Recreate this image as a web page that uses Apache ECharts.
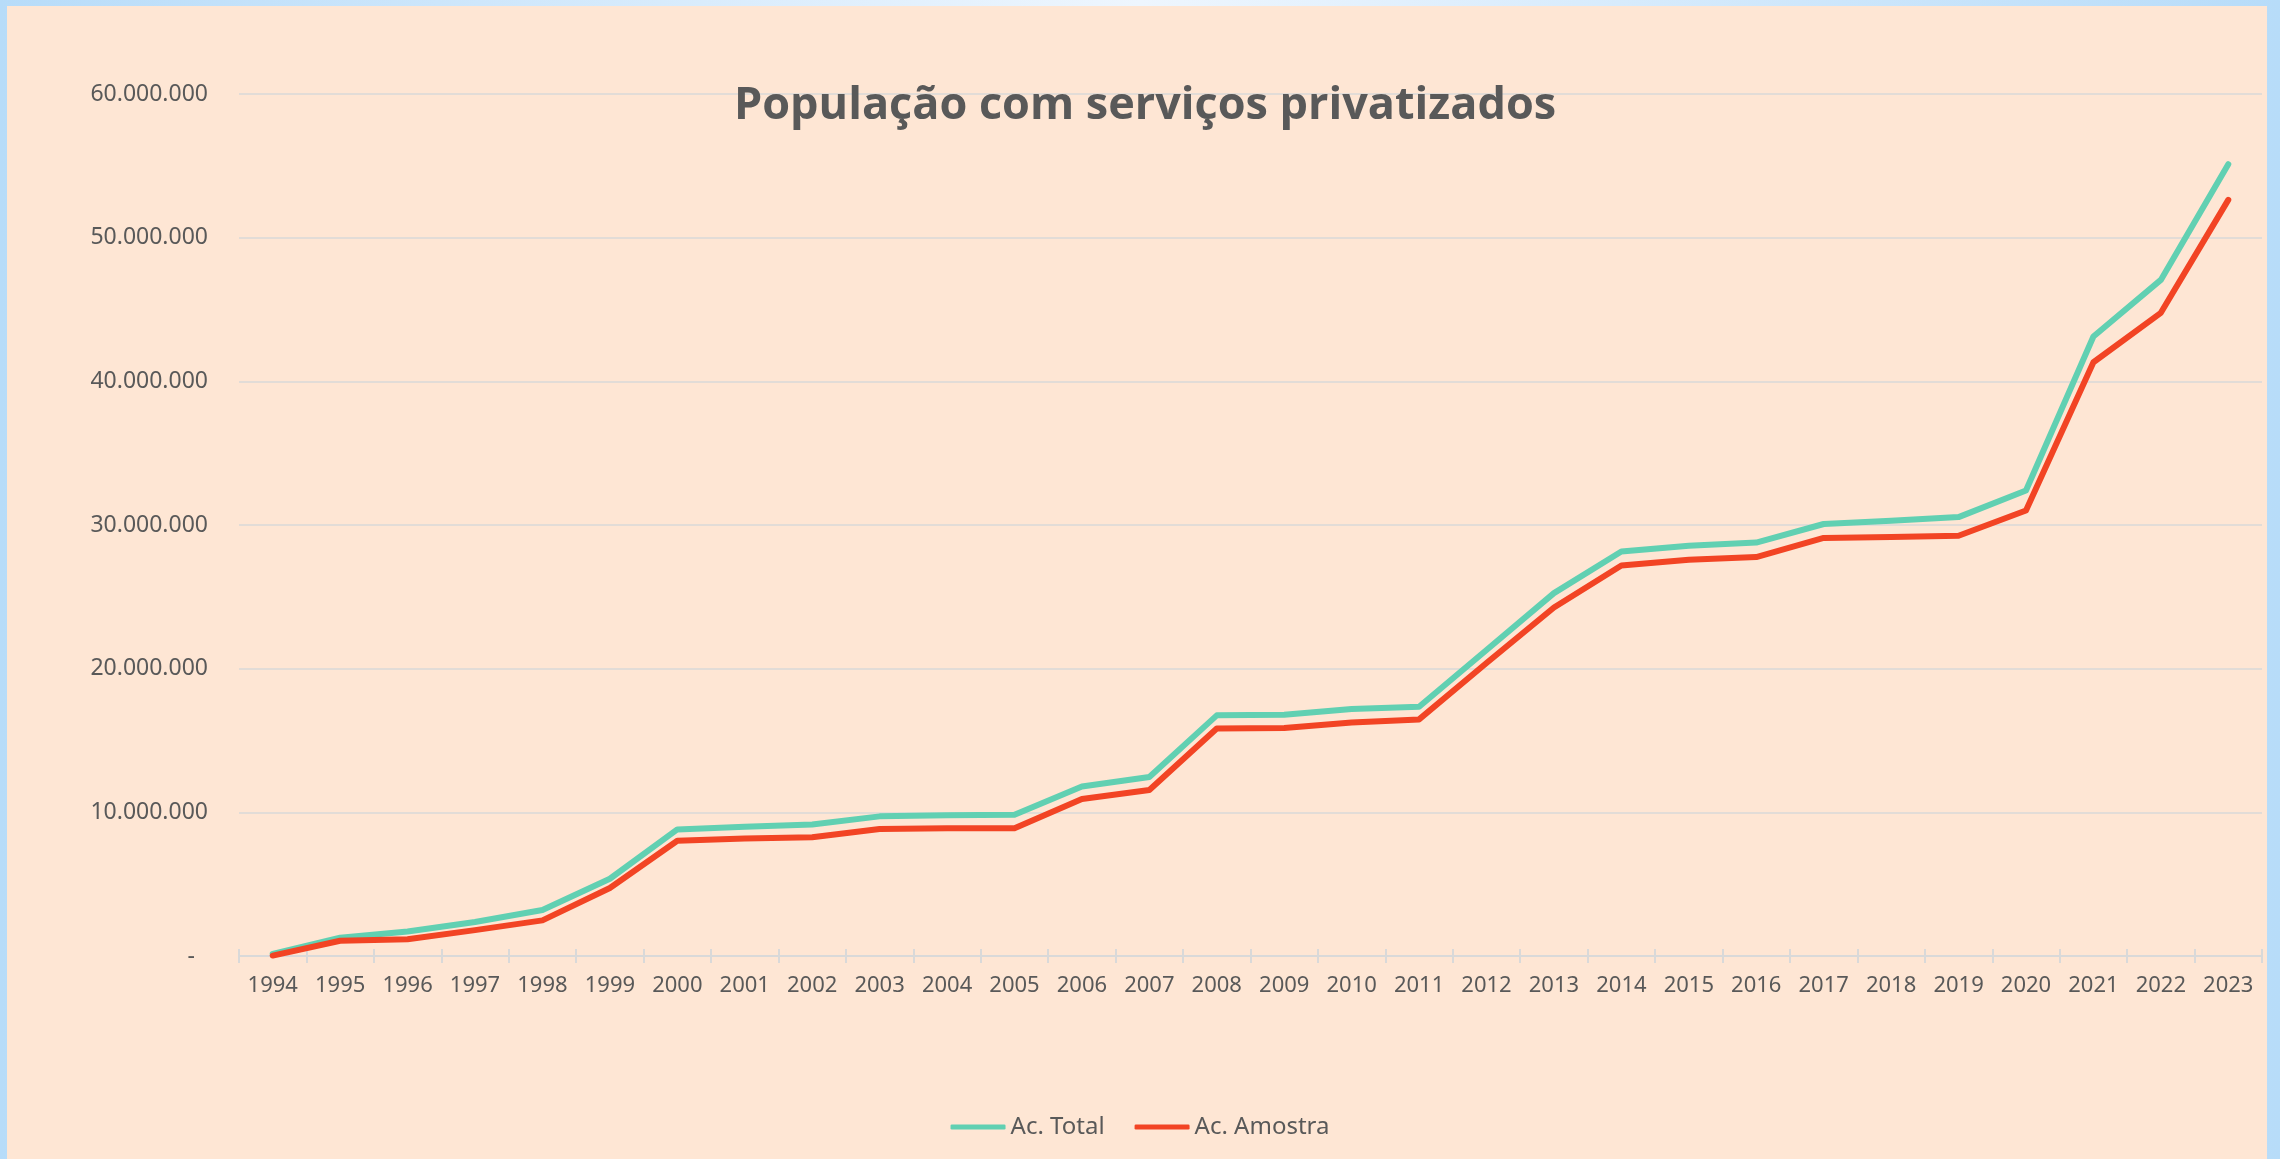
<!DOCTYPE html>
<html>
<head>
<meta charset="utf-8">
<script src="https://cdn.jsdelivr.net/npm/echarts@6/dist/echarts.min.js"></script>
<style>
  html, body { margin: 0; padding: 0; width: 2280px; height: 1159px; overflow: hidden; }
  body { background: linear-gradient(to right, #B7DCF9 0%, #EEF6FE 50%, #B7DCF9 100%); position: relative; }
  #bg { position: absolute; left: 7px; top: 6px; width: 2260px; height: 1153px; background: #FEE6D4; }
  #chart { position: absolute; left: 0; top: 0; width: 2280px; height: 1159px; }
</style>
</head>
<body>
<div id="bg"></div>
<div id="chart"></div>
<script>
const titleText = 'População com serviços privatizados';
const years = ['1994','1995','1996','1997','1998','1999','2000','2001','2002','2003','2004','2005','2006','2007','2008','2009','2010','2011','2012','2013','2014','2015','2016','2017','2018','2019','2020','2021','2022','2023'];
const seriesNames = ['Ac. Total', 'Ac. Amostra'];
const acTotal = [140000, 1270000, 1710000, 2370000, 3200000, 5380000, 8810000, 9000000, 9160000, 9720000, 9790000, 9830000, 11800000, 12460000, 16750000, 16790000, 17190000, 17350000, 21300000, 25260000, 28160000, 28550000, 28780000, 30070000, 30290000, 30550000, 32400000, 43120000, 47060000, 55110000];
const acAmostra = [30000, 1060000, 1160000, 1800000, 2480000, 4730000, 8020000, 8180000, 8260000, 8840000, 8900000, 8900000, 10930000, 11550000, 15840000, 15870000, 16260000, 16470000, 20390000, 24260000, 27180000, 27580000, 27770000, 29100000, 29160000, 29250000, 31010000, 41330000, 44770000, 52630000];
const yMin = 0, yMax = 60000000, yStep = 10000000;

function fmt(v) {
  if (v === 0) return '{z|-}';
  return String(Math.round(v)).replace(/\B(?=(\d{3})+(?!\d))/g, '.');
}

const textColor = '#595959';
const gridColor = '#D9D9D9';
const chart = echarts.init(document.getElementById('chart'), null, { renderer: 'canvas' });
chart.setOption({
  backgroundColor: 'transparent',
  animation: false,
  title: {
    text: titleText,
    left: 729,
    top: 79,
    textStyle: { fontFamily: 'Open Sans', fontWeight: 'bold', fontSize: 45, color: textColor }
  },
  legend: {
    data: seriesNames,
    left: 'center',
    top: 1110,
    icon: 'roundRect',
    itemWidth: 55,
    itemHeight: 5,
    itemGap: 30,
    textStyle: { fontFamily: 'Noto Sans', fontSize: 24, color: textColor }
  },
  grid: { left: 239, right: 18, top: 94, bottom: 203, containLabel: false },
  xAxis: [
    {
      type: 'category',
      data: years,
      boundaryGap: true,
      position: 'bottom',
      axisLine: { show: true, lineStyle: { color: gridColor, width: 2 } },
      axisTick: { show: true, length: 7, inside: false, lineStyle: { color: gridColor, width: 2 } },
      axisLabel: { margin: 19, fontFamily: 'Noto Sans', fontSize: 22, color: textColor, interval: 0 }
    },
    {
      type: 'category',
      data: years,
      boundaryGap: true,
      position: 'bottom',
      axisLine: { show: false },
      axisTick: { show: true, length: 7, inside: true, lineStyle: { color: gridColor, width: 2 } },
      axisLabel: { show: false }
    }
  ],
  yAxis: {
    type: 'value',
    min: yMin,
    max: yMax,
    interval: yStep,
    axisLine: { show: false },
    axisTick: { show: false },
    splitLine: { show: true, lineStyle: { color: gridColor, width: 1.5 } },
    axisLabel: {
      margin: 31,
      fontFamily: 'Noto Sans',
      fontSize: 23,
      color: textColor,
      formatter: fmt,
      rich: { z: { fontFamily: 'Noto Sans', fontSize: 23, color: textColor, padding: [0, 13, 0, 0] } }
    }
  },
  series: [
    {
      name: seriesNames[0],
      type: 'line',
      data: acTotal,
      xAxisIndex: 0,
      symbol: 'none',
      lineStyle: { color: '#61D0B2', width: 6, cap: 'round', join: 'round' },
      itemStyle: { color: '#61D0B2' }
    },
    {
      name: seriesNames[1],
      type: 'line',
      data: acAmostra,
      xAxisIndex: 0,
      symbol: 'none',
      lineStyle: { color: '#F24424', width: 6, cap: 'round', join: 'round' },
      itemStyle: { color: '#F24424' }
    }
  ]
});
</script>
</body>
</html>
